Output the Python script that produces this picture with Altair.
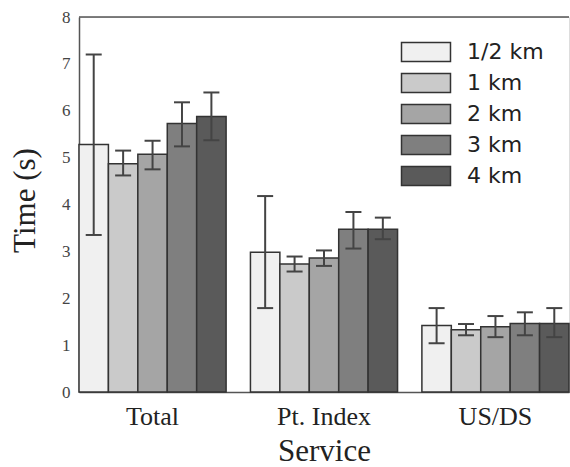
import altair as alt
import pandas as pd

services = ["Total", "Pt. Index", "US/DS"]
distances = ["1/2 km", "1 km", "2 km", "3 km", "4 km"]
colors = ["#f0f0f0", "#cacaca", "#a5a5a5", "#7f7f7f", "#5a5a5a"]

# mean time per distance, one value per service (Total, Pt. Index, US/DS)
mean_half = [5.28, 2.98, 1.42]
mean_1 = [4.87, 2.73, 1.33]
mean_2 = [5.07, 2.86, 1.39]
mean_3 = [5.73, 3.47, 1.46]
mean_4 = [5.88, 3.47, 1.46]

lo_half = [3.35, 1.79, 1.04]
lo_1 = [4.62, 2.57, 1.21]
lo_2 = [4.75, 2.69, 1.17]
lo_3 = [5.24, 3.06, 1.21]
lo_4 = [5.37, 3.26, 1.17]

hi_half = [7.20, 4.18, 1.79]
hi_1 = [5.15, 2.89, 1.45]
hi_2 = [5.36, 3.02, 1.62]
hi_3 = [6.18, 3.84, 1.70]
hi_4 = [6.39, 3.72, 1.79]

y_ticks = [0, 1, 2, 3, 4, 5, 6, 7, 8]

means = [mean_half, mean_1, mean_2, mean_3, mean_4]
los = [lo_half, lo_1, lo_2, lo_3, lo_4]
his = [hi_half, hi_1, hi_2, hi_3, hi_4]

rows = []
for d, m, l, h in zip(distances, means, los, his):
    for s, mv, lv, hv in zip(services, m, l, h):
        rows.append({"service": s, "dist": d, "mean": mv, "lo": lv, "hi": hv})
df = pd.DataFrame(rows)

W, H = 490, 375
SERIF = "Liberation Serif"

x_enc = alt.X(
    "service:N",
    sort=services,
    scale=alt.Scale(paddingInner=0.142, paddingOuter=0),
    axis=alt.Axis(
        title="Service",
        titleFont=SERIF,
        titleFontSize=31,
        titleFontWeight="normal",
        titleColor="#222",
        titleBaseline="alphabetic",
        titleX=245,
        titleY=68,
        labelFont=SERIF,
        labelFontSize=26,
        labelColor="#222",
        labelAngle=0,
        labelBaseline="alphabetic",
        labelPadding=32,
        ticks=False,
        tickSize=0,
        domainColor="#555",
        domainWidth=1.5,
    ),
)
xoff = alt.XOffset("dist:N", sort=distances, scale=alt.Scale(paddingInner=0, paddingOuter=0))

y_scale = alt.Scale(domain=[0, 8], nice=False)

bars = alt.Chart(df).mark_bar(stroke="#333", strokeWidth=1.5, opacity=1).encode(
    x=x_enc,
    xOffset=xoff,
    y=alt.Y(
        "mean:Q",
        scale=y_scale,
        axis=alt.Axis(
            values=y_ticks,
            title="Time (s)",
            titleFont=SERIF,
            titleFontSize=31,
            titleFontWeight="normal",
            titleColor="#222",
            titleBaseline="alphabetic",
            titleAlign="center",
            titleX=-45,
            titleY=183,
            labelFont=SERIF,
            labelFontSize=17,
            labelColor="#444",
            labelPadding=9,
            ticks=False,
            tickSize=0,
            grid=False,
            domainColor="#555",
            domainWidth=1.5,
        ),
    ),
    fill=alt.Fill(
        "dist:N",
        sort=distances,
        scale=alt.Scale(domain=distances, range=colors),
        legend=alt.Legend(
            title=None,
            orient="none",
            legendX=334,
            legendY=22,
            padding=0,
            labelFont="DejaVu Sans",
            labelFontSize=22,
            labelColor="#222",
            labelOffset=28,
            symbolType="M-2,-0.78L2,-0.78L2,0.78L-2,0.78Z",
            symbolSize=600,
            symbolStrokeColor="#333",
            symbolStrokeWidth=1.5,
            symbolOpacity=1,
            rowPadding=5,
        ),
    ),
)

err = alt.Chart(df).mark_rule(color="#444", strokeWidth=2).encode(
    x=alt.X("service:N", sort=services),
    xOffset=alt.XOffset("dist:N", sort=distances),
    y=alt.Y("lo:Q", scale=y_scale),
    y2="hi:Q",
)
cap_lo = alt.Chart(df).mark_tick(color="#444", size=16, thickness=2, opacity=1).encode(
    x=alt.X("service:N", sort=services),
    xOffset=alt.XOffset("dist:N", sort=distances),
    y=alt.Y("lo:Q", scale=y_scale),
)
cap_hi = alt.Chart(df).mark_tick(color="#444", size=16, thickness=2, opacity=1).encode(
    x=alt.X("service:N", sort=services),
    xOffset=alt.XOffset("dist:N", sort=distances),
    y=alt.Y("hi:Q", scale=y_scale),
)

frame_top = alt.Chart(pd.DataFrame({"a": [0]})).mark_rule(color="#555", strokeWidth=1.5).encode(
    x=alt.value(0), x2=alt.value(W), y=alt.value(0)
)

chart = (
    alt.layer(bars, err, cap_lo, cap_hi, frame_top)
    .properties(
        width=W,
        height=H,
        autosize=alt.AutoSizeParams(type="none"),
        padding={"left": 79, "top": 17, "right": 1, "bottom": 75},
    )
    .configure_view(stroke=None)
    .configure(background="white")
)

chart.save("out.html", embed_options={"renderer": "svg", "actions": False})
